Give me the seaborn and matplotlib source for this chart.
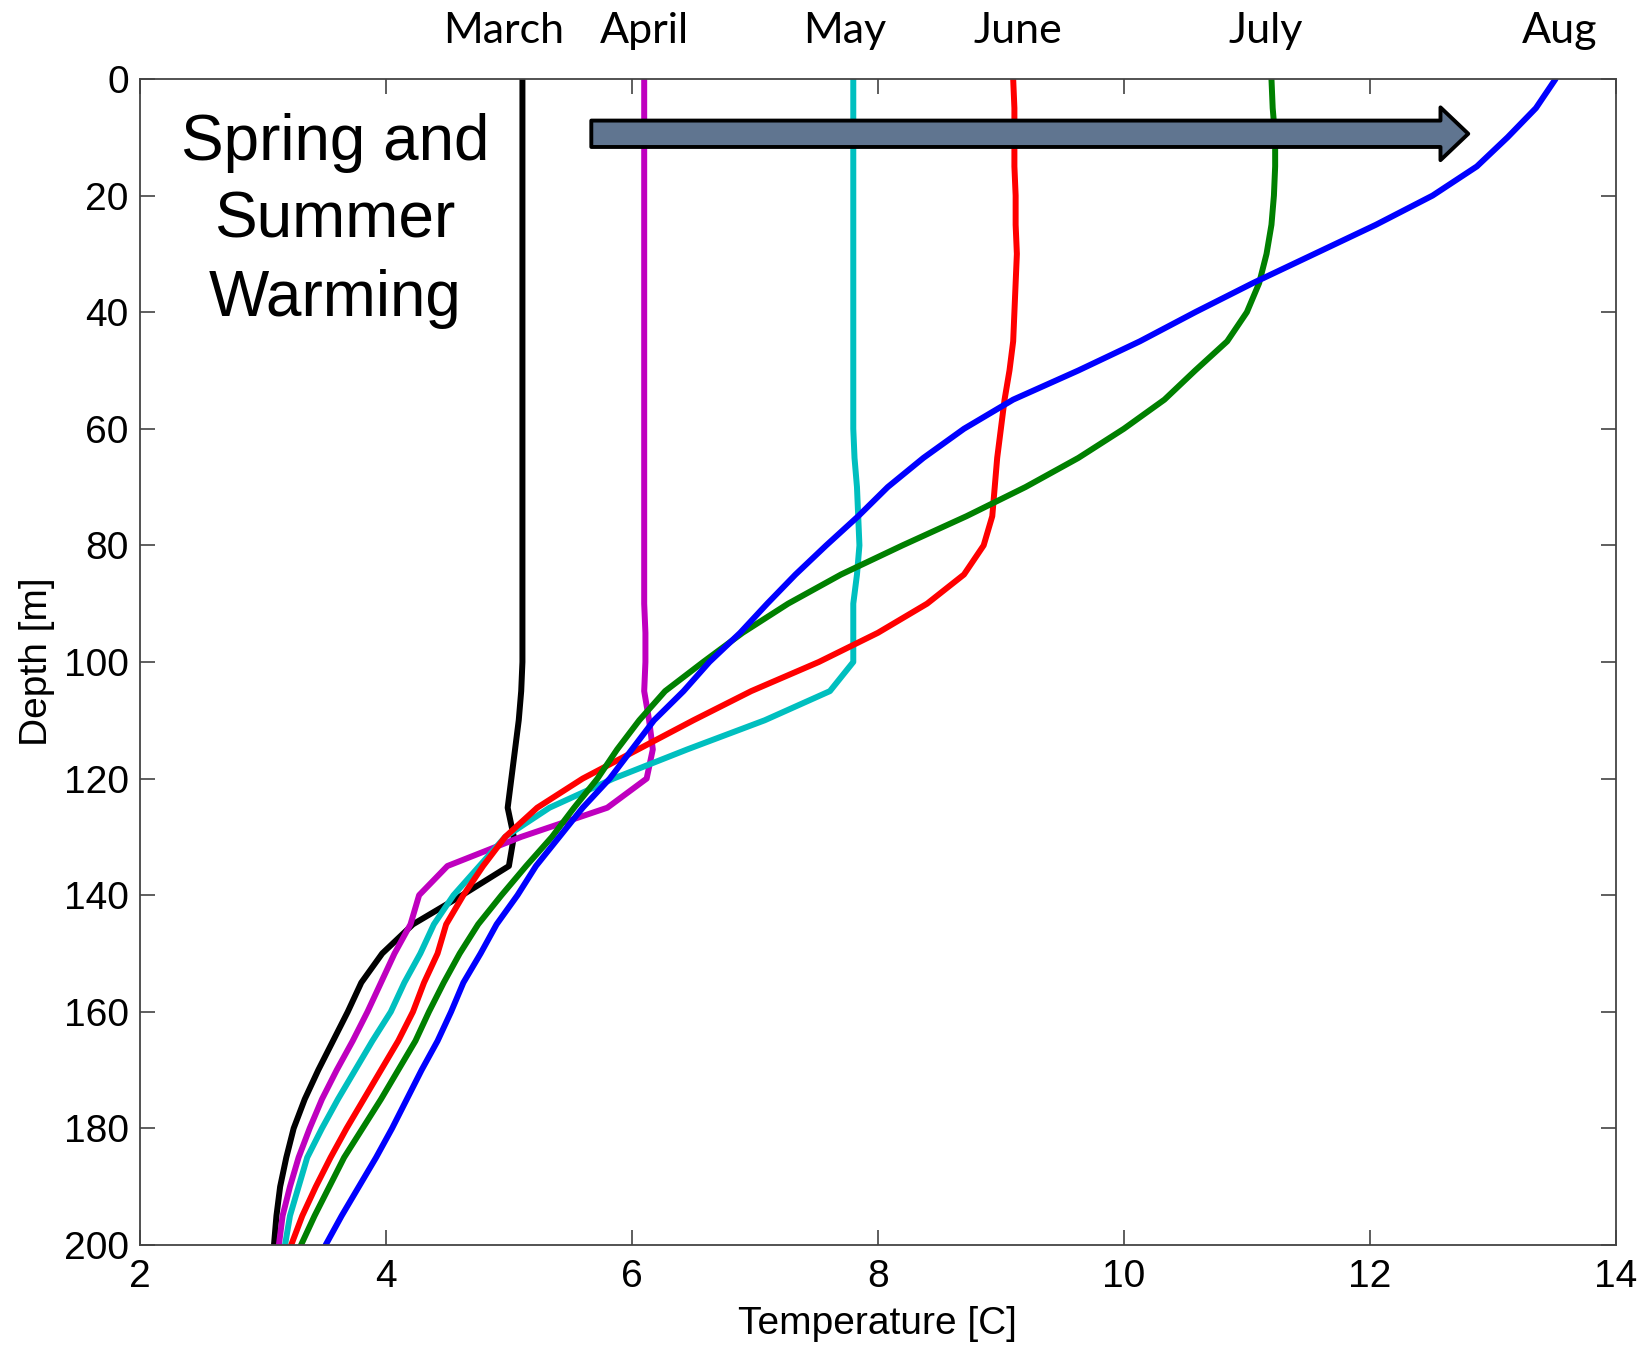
import numpy as np
import pandas as pd
import matplotlib
matplotlib.use("Agg")
import matplotlib.pyplot as plt
import seaborn as sns

# Profils de temperature, profondeur tous les 5 m
depth = list(range(0, 205, 5))

march = [5.11, 5.11, 5.11, 5.11, 5.11, 5.11, 5.11, 5.11, 5.11, 5.11,
         5.11, 5.11, 5.11, 5.11, 5.11, 5.11, 5.11, 5.11, 5.11, 5.11,
         5.11, 5.10, 5.08, 5.05, 5.02, 4.99, 5.04, 5.00, 4.62, 4.22,
         3.97, 3.80, 3.69, 3.57, 3.45, 3.34, 3.25, 3.19, 3.14, 3.11, 3.09]
april = [6.10, 6.10, 6.10, 6.10, 6.10, 6.10, 6.10, 6.10, 6.10, 6.10,
         6.10, 6.10, 6.10, 6.10, 6.10, 6.10, 6.10, 6.10, 6.10, 6.11,
         6.11, 6.10, 6.14, 6.17, 6.12, 5.80, 5.10, 4.50, 4.27, 4.20,
         4.07, 3.96, 3.85, 3.73, 3.60, 3.48, 3.38, 3.29, 3.22, 3.16, 3.13]
may = [7.80, 7.80, 7.80, 7.80, 7.80, 7.80, 7.80, 7.80, 7.80, 7.80,
       7.80, 7.80, 7.80, 7.81, 7.83, 7.84, 7.85, 7.83, 7.80, 7.80,
       7.80, 7.61, 7.08, 6.45, 5.85, 5.33, 4.97, 4.76, 4.55, 4.39,
       4.28, 4.15, 4.04, 3.89, 3.75, 3.61, 3.48, 3.36, 3.29, 3.22, 3.18]
june = [9.10, 9.11, 9.11, 9.11, 9.12, 9.12, 9.13, 9.12, 9.11, 9.10,
        9.07, 9.03, 9.00, 8.97, 8.95, 8.93, 8.86, 8.70, 8.40, 8.00,
        7.52, 6.97, 6.50, 6.05, 5.60, 5.23, 4.97, 4.79, 4.63, 4.49,
        4.42, 4.31, 4.22, 4.10, 3.96, 3.82, 3.68, 3.55, 3.43, 3.32, 3.23]
july = [11.20, 11.21, 11.23, 11.23, 11.22, 11.20, 11.16, 11.10, 11.00, 10.84,
        10.58, 10.33, 10.00, 9.63, 9.20, 8.72, 8.20, 7.70, 7.27, 6.90,
        6.58, 6.27, 6.06, 5.88, 5.72, 5.53, 5.35, 5.14, 4.94, 4.75,
        4.60, 4.47, 4.35, 4.24, 4.10, 3.96, 3.81, 3.66, 3.54, 3.42, 3.31]
aug = [13.51, 13.35, 13.12, 12.87, 12.51, 12.05, 11.55, 11.05, 10.58, 10.13,
       9.63, 9.10, 8.70, 8.37, 8.08, 7.84, 7.58, 7.33, 7.10, 6.88,
       6.63, 6.42, 6.18, 6.00, 5.82, 5.60, 5.41, 5.22, 5.07, 4.90,
       4.77, 4.63, 4.53, 4.42, 4.29, 4.17, 4.05, 3.92, 3.78, 3.64, 3.51]

months = ["March", "April", "May", "June", "July", "Aug"]
colors = ["#000000", "#bf00bf", "#00bfbf", "#ff0000", "#008000", "#0000ff"]
label_x = [4.96, 6.10, 7.73, 9.14, 11.15, 13.54]

profils = [march, april, may, june, july, aug]
df = pd.concat(
    [pd.DataFrame({"temp": t, "depth": depth, "month": m}) for t, m in zip(profils, months)],
    ignore_index=True,
)

sns.set_style("ticks")
plt.rcParams["font.family"] = ["Liberation Sans", "DejaVu Sans"]
plt.rcParams["text.color"] = "black"
plt.rcParams["axes.labelcolor"] = "black"

fig = plt.figure(figsize=(16.5, 13.5), dpi=100)
ax = fig.add_axes([0.0848, 0.0778, 0.8945, 0.8637])

sns.lineplot(data=df, x="temp", y="depth", hue="month", palette=dict(zip(months, colors)),
             sort=False, estimator=None, lw=4.3, legend=False, ax=ax)

ax.set_xlim(2, 14)
ax.set_ylim(200, 0)
ax.set_xticks(range(2, 15, 2))
ax.set_yticks(range(0, 201, 20))
ax.tick_params(direction="in", length=11, width=1.1, top=True, right=True,
               labelsize=28, colors="#333333", labelcolor="black")
ax.tick_params(axis="x", pad=10)
ax.tick_params(axis="y", pad=8)
for s in ax.spines.values():
    s.set_color("#444444")
    s.set_linewidth(1.3)

ax.set_xlabel("Temperature [C]", fontsize=28, labelpad=8)
ax.set_ylabel("Depth [m]", fontsize=28, labelpad=6)

# Etiquettes des mois au-dessus du graphique
trans = ax.get_xaxis_transform()
for x, m in zip(label_x, months):
    ax.text(x, 1.0306, m, transform=trans, ha="center", va="baseline",
            fontsize=31, family=["Lato", "DejaVu Sans"], clip_on=False)

ax.text(3.585, 24.3, "Spring and\nSummer\nWarming", ha="center", va="center",
        fontsize=46, linespacing=1.38)

# Fleche du rechauffement
ax.annotate("", xy=(12.8, 9.4), xytext=(5.67, 9.4),
            arrowprops=dict(arrowstyle="simple,head_length=1.0,head_width=1.9,tail_width=0.95",
                            mutation_scale=20, fc="#607590", ec="black", lw=2.8,
                            shrinkA=0, shrinkB=0))

fig.savefig("out.png", dpi=100)
